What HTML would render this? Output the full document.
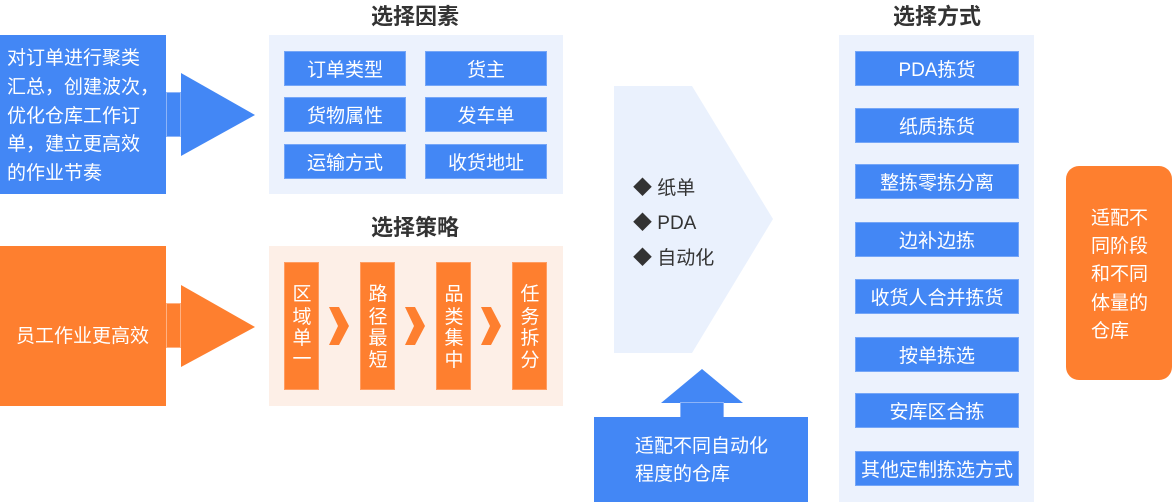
<!DOCTYPE html>
<html>
<head>
<meta charset="utf-8">
<style>
  html,body{margin:0;padding:0;background:#fff;}
  body{width:1172px;height:502px;overflow:hidden;}
  svg{display:block;}
  text{font-family:"Liberation Sans","Noto Sans CJK SC",sans-serif;transform:translateY(1.5px);}
  .w{fill:#fff;font-size:19px;}
  .t{fill:#333;font-size:22px;font-weight:bold;}
  .d{fill:#333;font-size:19px;}
</style>
</head>
<body>
<svg width="1172" height="502" viewBox="0 0 1172 502" xmlns="http://www.w3.org/2000/svg">
  <!-- Left blue block -->
  <rect x="0" y="35" width="166" height="159" fill="#4387f5"/>
  <rect x="166.5" y="92.5" width="14" height="44" fill="#4387f5" stroke="#8db4f8" stroke-width="1"/>
  <polygon points="181,73 255,115 181,156" fill="#4387f5"/>
  <text x="7" y="57" class="w" dominant-baseline="central">对订单进行聚类</text>
  <text x="7" y="86" class="w" dominant-baseline="central">汇总，创建波次，</text>
  <text x="7" y="115" class="w" dominant-baseline="central">优化仓库工作订</text>
  <text x="7" y="143" class="w" dominant-baseline="central">单，建立更高效</text>
  <text x="7" y="172" class="w" dominant-baseline="central">的作业节奏</text>

  <!-- Left orange block -->
  <rect x="0" y="246" width="166" height="160" fill="#fe7f2f"/>
  <rect x="166.5" y="303.5" width="14" height="44" fill="#fe7f2f" stroke="#ffb182" stroke-width="1"/>
  <polygon points="181,285 255,327 181,367" fill="#fe7f2f"/>
  <text x="16" y="335" class="w" dominant-baseline="central">员工作业更高效</text>

  <!-- 选择因素 -->
  <text x="415" y="15" class="t" text-anchor="middle" dominant-baseline="central">选择因素</text>
  <rect x="269" y="35" width="294" height="159" fill="#ecf2fd"/>
  <g>
    <rect x="284.5" y="51.5" width="121" height="34" fill="#4387f5" stroke="#75a6f7"/>
    <rect x="425.5" y="51.5" width="121" height="34" fill="#4387f5" stroke="#75a6f7"/>
    <rect x="284.5" y="97.5" width="121" height="34" fill="#4387f5" stroke="#75a6f7"/>
    <rect x="425.5" y="97.5" width="121" height="34" fill="#4387f5" stroke="#75a6f7"/>
    <rect x="284.5" y="144.5" width="121" height="34" fill="#4387f5" stroke="#75a6f7"/>
    <rect x="425.5" y="144.5" width="121" height="34" fill="#4387f5" stroke="#75a6f7"/>
    <text x="345" y="69" class="w" text-anchor="middle" dominant-baseline="central">订单类型</text>
    <text x="486" y="69" class="w" text-anchor="middle" dominant-baseline="central">货主</text>
    <text x="345" y="115" class="w" text-anchor="middle" dominant-baseline="central">货物属性</text>
    <text x="486" y="115" class="w" text-anchor="middle" dominant-baseline="central">发车单</text>
    <text x="345" y="162" class="w" text-anchor="middle" dominant-baseline="central">运输方式</text>
    <text x="486" y="162" class="w" text-anchor="middle" dominant-baseline="central">收货地址</text>
  </g>

  <!-- 选择策略 -->
  <text x="415" y="226" class="t" text-anchor="middle" dominant-baseline="central">选择策略</text>
  <rect x="269" y="246" width="294" height="160" fill="#fdefe7"/>
  <g>
    <rect x="284.5" y="262.5" width="34" height="127" fill="#fe7f2f" stroke="#ff9d62"/>
    <rect x="360.5" y="262.5" width="34" height="127" fill="#fe7f2f" stroke="#ff9d62"/>
    <rect x="436.5" y="262.5" width="34" height="127" fill="#fe7f2f" stroke="#ff9d62"/>
    <rect x="512.5" y="262.5" width="34" height="127" fill="#fe7f2f" stroke="#ff9d62"/>
    <polygon points="329,307 339,307 349,326 339,345 329,345 338,326" fill="#fe7f2f"/>
    <polygon points="405,307 415,307 425,326 415,345 405,345 414,326" fill="#fe7f2f"/>
    <polygon points="481,307 491,307 501,326 491,345 481,345 490,326" fill="#fe7f2f"/>

    <text x="302" y="293" class="w" text-anchor="middle" dominant-baseline="central">区</text>
    <text x="302" y="316" class="w" text-anchor="middle" dominant-baseline="central">域</text>
    <text x="302" y="337" class="w" text-anchor="middle" dominant-baseline="central">单</text>
    <text x="302" y="358" class="w" text-anchor="middle" dominant-baseline="central">一</text>

    <text x="378" y="293" class="w" text-anchor="middle" dominant-baseline="central">路</text>
    <text x="378" y="316" class="w" text-anchor="middle" dominant-baseline="central">径</text>
    <text x="378" y="337" class="w" text-anchor="middle" dominant-baseline="central">最</text>
    <text x="378" y="359" class="w" text-anchor="middle" dominant-baseline="central">短</text>

    <text x="454" y="293" class="w" text-anchor="middle" dominant-baseline="central">品</text>
    <text x="454" y="316" class="w" text-anchor="middle" dominant-baseline="central">类</text>
    <text x="454" y="337" class="w" text-anchor="middle" dominant-baseline="central">集</text>
    <text x="454" y="359" class="w" text-anchor="middle" dominant-baseline="central">中</text>

    <text x="530" y="293" class="w" text-anchor="middle" dominant-baseline="central">任</text>
    <text x="530" y="316" class="w" text-anchor="middle" dominant-baseline="central">务</text>
    <text x="530" y="337" class="w" text-anchor="middle" dominant-baseline="central">拆</text>
    <text x="530" y="359" class="w" text-anchor="middle" dominant-baseline="central">分</text>
  </g>

  <!-- Middle pentagon -->
  <polygon points="614,86 692,86 773,219 692,353 614,353" fill="#eaf1fd"/>
  <text x="633" y="187" class="d" dominant-baseline="central">◆ 纸单</text>
  <text x="633" y="222" class="d" dominant-baseline="central">◆ PDA</text>
  <text x="633" y="257" class="d" dominant-baseline="central">◆ 自动化</text>

  <!-- Up arrow + bottom blue box -->
  <polygon points="661,403 702,369 743,403" fill="#4387f5"/>
  <rect x="680.5" y="402.5" width="43" height="15" fill="#4387f5" stroke="#8db4f8"/>
  <rect x="594" y="417" width="214" height="85" fill="#4387f5"/>
  <text x="635" y="445" class="w" dominant-baseline="central">适配不同自动化</text>
  <text x="635" y="473" class="w" dominant-baseline="central">程度的仓库</text>

  <!-- 选择方式 -->
  <text x="937" y="15" class="t" text-anchor="middle" dominant-baseline="central">选择方式</text>
  <rect x="839" y="35" width="195" height="467" fill="#ecf2fd"/>
  <g>
    <rect x="855.5" y="51.5" width="163" height="34" fill="#4387f5" stroke="#75a6f7"/>
    <rect x="855.5" y="108.5" width="163" height="34" fill="#4387f5" stroke="#75a6f7"/>
    <rect x="855.5" y="164.5" width="163" height="34" fill="#4387f5" stroke="#75a6f7"/>
    <rect x="855.5" y="222.5" width="163" height="34" fill="#4387f5" stroke="#75a6f7"/>
    <rect x="855.5" y="279.5" width="163" height="34" fill="#4387f5" stroke="#75a6f7"/>
    <rect x="855.5" y="337.5" width="163" height="34" fill="#4387f5" stroke="#75a6f7"/>
    <rect x="855.5" y="393.5" width="163" height="34" fill="#4387f5" stroke="#75a6f7"/>
    <rect x="855.5" y="451.5" width="163" height="34" fill="#4387f5" stroke="#75a6f7"/>
    <text x="937" y="69" class="w" text-anchor="middle" dominant-baseline="central">PDA拣货</text>
    <text x="937" y="126" class="w" text-anchor="middle" dominant-baseline="central">纸质拣货</text>
    <text x="937" y="182" class="w" text-anchor="middle" dominant-baseline="central">整拣零拣分离</text>
    <text x="937" y="240" class="w" text-anchor="middle" dominant-baseline="central">边补边拣</text>
    <text x="937" y="297" class="w" text-anchor="middle" dominant-baseline="central">收货人合并拣货</text>
    <text x="937" y="355" class="w" text-anchor="middle" dominant-baseline="central">按单拣选</text>
    <text x="937" y="411" class="w" text-anchor="middle" dominant-baseline="central">安库区合拣</text>
    <text x="937" y="469" class="w" text-anchor="middle" dominant-baseline="central">其他定制拣选方式</text>
  </g>

  <!-- Right orange rounded box -->
  <rect x="1066" y="166" width="106" height="214" rx="13" ry="13" fill="#fe7f2f"/>
  <text x="1091" y="217" class="w" dominant-baseline="central">适配不</text>
  <text x="1091" y="245" class="w" dominant-baseline="central">同阶段</text>
  <text x="1091" y="273" class="w" dominant-baseline="central">和不同</text>
  <text x="1091" y="302" class="w" dominant-baseline="central">体量的</text>
  <text x="1091" y="330" class="w" dominant-baseline="central">仓库</text>
</svg>
</body>
</html>
